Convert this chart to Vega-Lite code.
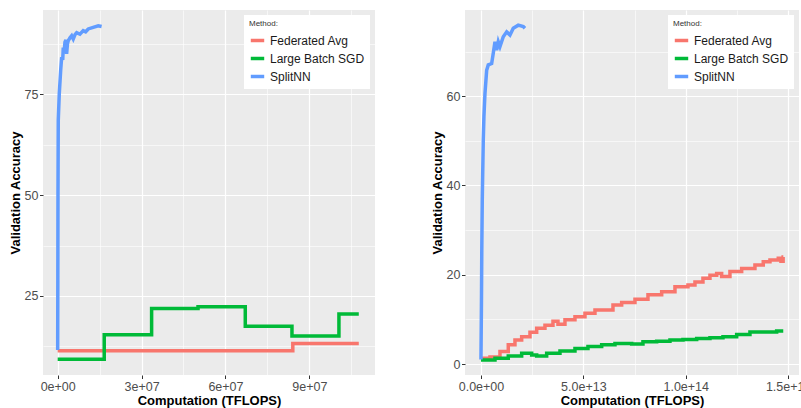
{
  "$schema": "https://vega.github.io/schema/vega-lite/v6.json",
  "background": "white",
  "padding": {"left": 9, "top": 10, "right": 0, "bottom": 0},
  "bounds": "flush",
  "spacing": 90,
  "config": {
    "view": {"fill": "#EBEBEB", "stroke": null},
    "font": "Liberation Sans",
    "axis": {
      "domain": false,
      "grid": true,
      "gridColor": "#FFFFFF",
      "tickColor": "#333333",
      "tickSize": 3.5,
      "tickWidth": 1,
      "labelColor": "#4D4D4D",
      "labelFontSize": 12.5,
      "labelPadding": 1.5,
      "labelOverlap": false,
      "labelFlush": false,
      "titleFontSize": 13,
      "titleFontWeight": "bold",
      "titleColor": "#000000",
      "titlePadding": 2
    },
    "legend": {
      "orient": "top-right",
      "offset": 5,
      "fillColor": "#FFFFFF",
      "padding": 5,
      "titleFontSize": 8,
      "titleFontWeight": "normal",
      "titleColor": "#333333",
      "titlePadding": 4,
      "labelFontSize": 12,
      "labelColor": "#1A1A1A",
      "labelOffset": 4,
      "symbolType": "stroke",
      "symbolStrokeWidth": 3.5,
      "symbolSize": 180,
      "rowPadding": 2
    }
  },
  "resolve": {"legend": {"color": "independent"}},
  "datasets": {
    "left": [
      {"method": "Federated Avg", "tflops": 0, "acc": 11.4},
      {"method": "Federated Avg", "tflops": 84100000, "acc": 13.2},
      {"method": "Federated Avg", "tflops": 107700000, "acc": 13.2},
      {"method": "Large Batch SGD", "tflops": 0, "acc": 9.3},
      {"method": "Large Batch SGD", "tflops": 16650000, "acc": 15.4},
      {"method": "Large Batch SGD", "tflops": 33600000, "acc": 21.9},
      {"method": "Large Batch SGD", "tflops": 50200000, "acc": 22.3},
      {"method": "Large Batch SGD", "tflops": 67100000, "acc": 17.5},
      {"method": "Large Batch SGD", "tflops": 83800000, "acc": 15.1},
      {"method": "Large Batch SGD", "tflops": 100600000, "acc": 20.5},
      {"method": "Large Batch SGD", "tflops": 107700000, "acc": 20.5},
      {"method": "SplitNN", "tflops": 0, "acc": 11.6},
      {"method": "SplitNN", "tflops": 60000, "acc": 30},
      {"method": "SplitNN", "tflops": 110000, "acc": 50},
      {"method": "SplitNN", "tflops": 210000, "acc": 68.5},
      {"method": "SplitNN", "tflops": 570000, "acc": 75.1},
      {"method": "SplitNN", "tflops": 1070000, "acc": 80.9},
      {"method": "SplitNN", "tflops": 1430000, "acc": 84.2},
      {"method": "SplitNN", "tflops": 1800000, "acc": 83.5},
      {"method": "SplitNN", "tflops": 2000000, "acc": 86.6},
      {"method": "SplitNN", "tflops": 2300000, "acc": 85.2},
      {"method": "SplitNN", "tflops": 2600000, "acc": 87.9},
      {"method": "SplitNN", "tflops": 2960000, "acc": 88.5},
      {"method": "SplitNN", "tflops": 3200000, "acc": 85.0},
      {"method": "SplitNN", "tflops": 3500000, "acc": 87.5},
      {"method": "SplitNN", "tflops": 3800000, "acc": 88.3},
      {"method": "SplitNN", "tflops": 4400000, "acc": 89.0},
      {"method": "SplitNN", "tflops": 5000000, "acc": 89.5},
      {"method": "SplitNN", "tflops": 5570000, "acc": 88.7},
      {"method": "SplitNN", "tflops": 6200000, "acc": 89.8},
      {"method": "SplitNN", "tflops": 6800000, "acc": 90.3},
      {"method": "SplitNN", "tflops": 7960000, "acc": 89.9},
      {"method": "SplitNN", "tflops": 9140000, "acc": 90.8},
      {"method": "SplitNN", "tflops": 10000000, "acc": 90.5},
      {"method": "SplitNN", "tflops": 10930000, "acc": 91.2},
      {"method": "SplitNN", "tflops": 12710000, "acc": 91.6},
      {"method": "SplitNN", "tflops": 14500000, "acc": 92.0},
      {"method": "SplitNN", "tflops": 15710000, "acc": 91.8}
    ],
    "right": [
      {"method": "Federated Avg", "tflops": 0, "acc": 1.3},
      {"method": "Federated Avg", "tflops": 4.39e12, "acc": 1.6},
      {"method": "Federated Avg", "tflops": 9.28e12, "acc": 2.8},
      {"method": "Federated Avg", "tflops": 1.333e13, "acc": 4.3},
      {"method": "Federated Avg", "tflops": 1.66e13, "acc": 5.4},
      {"method": "Federated Avg", "tflops": 1.987e13, "acc": 6.1},
      {"method": "Federated Avg", "tflops": 2.393e13, "acc": 7.1},
      {"method": "Federated Avg", "tflops": 2.72e13, "acc": 8.0},
      {"method": "Federated Avg", "tflops": 3.125e13, "acc": 8.7},
      {"method": "Federated Avg", "tflops": 3.516e13, "acc": 9.6},
      {"method": "Federated Avg", "tflops": 3.76e13, "acc": 8.9},
      {"method": "Federated Avg", "tflops": 4.102e13, "acc": 9.9},
      {"method": "Federated Avg", "tflops": 4.59e13, "acc": 10.6},
      {"method": "Federated Avg", "tflops": 5.078e13, "acc": 11.4},
      {"method": "Federated Avg", "tflops": 5.567e13, "acc": 12.1},
      {"method": "Federated Avg", "tflops": 6.446e13, "acc": 13.2},
      {"method": "Federated Avg", "tflops": 6.87e13, "acc": 13.8},
      {"method": "Federated Avg", "tflops": 7.52e13, "acc": 14.5},
      {"method": "Federated Avg", "tflops": 8.155e13, "acc": 15.5},
      {"method": "Federated Avg", "tflops": 8.824e13, "acc": 16.2},
      {"method": "Federated Avg", "tflops": 9.473e13, "acc": 17.3},
      {"method": "Federated Avg", "tflops": 1.0108e14, "acc": 17.7},
      {"method": "Federated Avg", "tflops": 1.045e14, "acc": 18.4},
      {"method": "Federated Avg", "tflops": 1.084e14, "acc": 19.2},
      {"method": "Federated Avg", "tflops": 1.1182e14, "acc": 19.9},
      {"method": "Federated Avg", "tflops": 1.1509e14, "acc": 20.3},
      {"method": "Federated Avg", "tflops": 1.1753e14, "acc": 19.6},
      {"method": "Federated Avg", "tflops": 1.2158e14, "acc": 20.7},
      {"method": "Federated Avg", "tflops": 1.273e14, "acc": 21.4},
      {"method": "Federated Avg", "tflops": 1.3379e14, "acc": 22.2},
      {"method": "Federated Avg", "tflops": 1.3785e14, "acc": 22.9},
      {"method": "Federated Avg", "tflops": 1.4112e14, "acc": 23.3},
      {"method": "Federated Avg", "tflops": 1.4517e14, "acc": 23.7},
      {"method": "Federated Avg", "tflops": 1.4649e14, "acc": 23.0},
      {"method": "Federated Avg", "tflops": 1.4755e14, "acc": 24.0},
      {"method": "Federated Avg", "tflops": 1.4765e14, "acc": 24.0},
      {"method": "Large Batch SGD", "tflops": 0, "acc": 0.9},
      {"method": "Large Batch SGD", "tflops": 6.84e12, "acc": 1.3},
      {"method": "Large Batch SGD", "tflops": 1.333e13, "acc": 1.8},
      {"method": "Large Batch SGD", "tflops": 1.987e13, "acc": 2.4},
      {"method": "Large Batch SGD", "tflops": 2.476e13, "acc": 2.0},
      {"method": "Large Batch SGD", "tflops": 2.72e13, "acc": 1.8},
      {"method": "Large Batch SGD", "tflops": 3.208e13, "acc": 2.4},
      {"method": "Large Batch SGD", "tflops": 3.858e13, "acc": 2.9},
      {"method": "Large Batch SGD", "tflops": 4.59e13, "acc": 3.5},
      {"method": "Large Batch SGD", "tflops": 5.225e13, "acc": 3.9},
      {"method": "Large Batch SGD", "tflops": 5.894e13, "acc": 4.3},
      {"method": "Large Batch SGD", "tflops": 6.543e13, "acc": 4.6},
      {"method": "Large Batch SGD", "tflops": 7.359e13, "acc": 4.5},
      {"method": "Large Batch SGD", "tflops": 7.91e13, "acc": 5.0},
      {"method": "Large Batch SGD", "tflops": 8.58e13, "acc": 5.1},
      {"method": "Large Batch SGD", "tflops": 9.229e13, "acc": 5.4},
      {"method": "Large Batch SGD", "tflops": 9.864e13, "acc": 5.5},
      {"method": "Large Batch SGD", "tflops": 1.0533e14, "acc": 5.7},
      {"method": "Large Batch SGD", "tflops": 1.1182e14, "acc": 5.9},
      {"method": "Large Batch SGD", "tflops": 1.1817e14, "acc": 6.1},
      {"method": "Large Batch SGD", "tflops": 1.2486e14, "acc": 6.6},
      {"method": "Large Batch SGD", "tflops": 1.3135e14, "acc": 7.2},
      {"method": "Large Batch SGD", "tflops": 1.4439e14, "acc": 7.4},
      {"method": "Large Batch SGD", "tflops": 1.4761e14, "acc": 7.4},
      {"method": "SplitNN", "tflops": 0, "acc": 1.0},
      {"method": "SplitNN", "tflops": 2.4e11, "acc": 14.3},
      {"method": "SplitNN", "tflops": 3.9e11, "acc": 25},
      {"method": "SplitNN", "tflops": 6.3e11, "acc": 36.7},
      {"method": "SplitNN", "tflops": 1.12e12, "acc": 50.2},
      {"method": "SplitNN", "tflops": 1.45e12, "acc": 55.5},
      {"method": "SplitNN", "tflops": 1.95e12, "acc": 60.6},
      {"method": "SplitNN", "tflops": 2.78e12, "acc": 65.8},
      {"method": "SplitNN", "tflops": 3.56e12, "acc": 67.0},
      {"method": "SplitNN", "tflops": 5.22e12, "acc": 67.3},
      {"method": "SplitNN", "tflops": 6.0e12, "acc": 69.6},
      {"method": "SplitNN", "tflops": 6.84e12, "acc": 72.2},
      {"method": "SplitNN", "tflops": 7.67e12, "acc": 70.3},
      {"method": "SplitNN", "tflops": 8.45e12, "acc": 72.2},
      {"method": "SplitNN", "tflops": 9.28e12, "acc": 71.1},
      {"method": "SplitNN", "tflops": 1.089e13, "acc": 73.3},
      {"method": "SplitNN", "tflops": 1.255e13, "acc": 74.4},
      {"method": "SplitNN", "tflops": 1.416e13, "acc": 73.7},
      {"method": "SplitNN", "tflops": 1.577e13, "acc": 75.2},
      {"method": "SplitNN", "tflops": 1.821e13, "acc": 75.9},
      {"method": "SplitNN", "tflops": 2.066e13, "acc": 75.6},
      {"method": "SplitNN", "tflops": 2.149e13, "acc": 75.2}
    ]
  },
  "hconcat": [
    {
      "width": 332,
      "height": 365,
      "data": {"name": "left"},
      "encoding": {
        "x": {
          "field": "tflops", "type": "quantitative", "title": "Computation (TFLOPS)",
          "scale": {"domain": [-5250000, 113500000], "nice": false, "zero": false},
          "axis": {
            "values": [0, 15000000, 30000000, 45000000, 60000000, 75000000, 90000000, 105000000],
            "labelExpr": "datum.value == 0 ? '0e+00' : datum.value == 30000000 ? '3e+07' : datum.value == 60000000 ? '6e+07' : datum.value == 90000000 ? '9e+07' : ''",
            "gridWidth": {"condition": {"test": "datum.value % 30000000 != 0", "value": 0.6}, "value": 1.2},
            "tickOpacity": {"condition": {"test": "datum.value % 30000000 != 0", "value": 0}, "value": 1}
          }
        },
        "y": {
          "field": "acc", "type": "quantitative", "title": "Validation Accuracy",
          "scale": {"domain": [5.4, 95.9], "nice": false, "zero": false},
          "axis": {
            "values": [12.5, 25, 37.5, 50, 62.5, 75, 87.5],
            "labelExpr": "datum.value % 25 == 0 ? datum.label : ''",
            "gridWidth": {"condition": {"test": "datum.value % 25 != 0", "value": 0.6}, "value": 1.2},
            "tickOpacity": {"condition": {"test": "datum.value % 25 != 0", "value": 0}, "value": 1}
          }
        },
        "color": {
          "field": "method", "type": "nominal", "title": "Method:",
          "scale": {"domain": ["Federated Avg", "Large Batch SGD", "SplitNN"], "range": ["#F8766D", "#00BA38", "#619CFF"]}
        }
      },
      "layer": [
        {"transform": [{"filter": "datum.method != 'SplitNN'"}], "mark": {"type": "line", "interpolate": "step-after", "strokeWidth": 3.5}},
        {"transform": [{"filter": "datum.method == 'SplitNN'"}], "mark": {"type": "line", "strokeWidth": 3.5}}
      ]
    },
    {
      "width": 334,
      "height": 365,
      "data": {"name": "right"},
      "encoding": {
        "x": {
          "field": "tflops", "type": "quantitative", "title": "Computation (TFLOPS)",
          "scale": {"domain": [-7.8e12, 1.553e14], "nice": false, "zero": false},
          "axis": {
            "values": [0, 2.5e13, 5e13, 7.5e13, 1e14, 1.25e14, 1.5e14],
            "labelExpr": "datum.value == 0 ? '0.0e+00' : datum.value == 5e13 ? '5.0e+13' : datum.value == 1e14 ? '1.0e+14' : datum.value == 1.5e14 ? '1.5e+14' : ''",
            "gridWidth": {"condition": {"test": "datum.value % 5e13 != 0", "value": 0.6}, "value": 1.2},
            "tickOpacity": {"condition": {"test": "datum.value % 5e13 != 0", "value": 0}, "value": 1}
          }
        },
        "y": {
          "field": "acc", "type": "quantitative", "title": "Validation Accuracy",
          "scale": {"domain": [-2.46, 79.3], "nice": false, "zero": false},
          "axis": {
            "values": [0, 10, 20, 30, 40, 50, 60, 70],
            "labelExpr": "datum.value % 20 == 0 ? datum.label : ''",
            "gridWidth": {"condition": {"test": "datum.value % 20 != 0", "value": 0.6}, "value": 1.2},
            "tickOpacity": {"condition": {"test": "datum.value % 20 != 0", "value": 0}, "value": 1}
          }
        },
        "color": {
          "field": "method", "type": "nominal", "title": "Method:",
          "scale": {"domain": ["Federated Avg", "Large Batch SGD", "SplitNN"], "range": ["#F8766D", "#00BA38", "#619CFF"]}
        }
      },
      "layer": [
        {"transform": [{"filter": "datum.method != 'SplitNN'"}], "mark": {"type": "line", "interpolate": "step-after", "strokeWidth": 3.5}},
        {"transform": [{"filter": "datum.method == 'SplitNN'"}], "mark": {"type": "line", "strokeWidth": 3.5}}
      ]
    }
  ]
}
